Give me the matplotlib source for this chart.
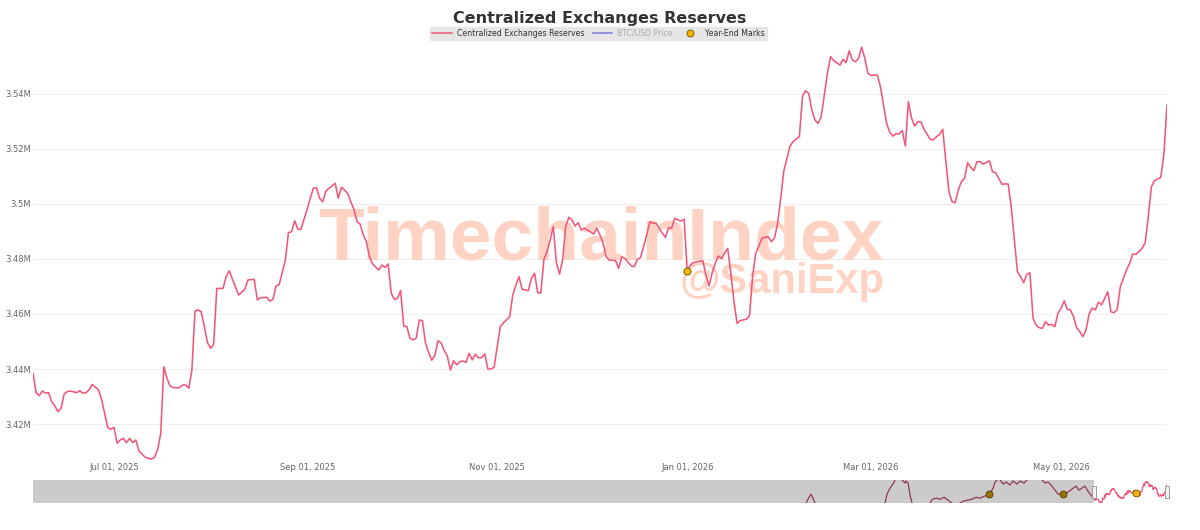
import numpy as np
import pandas as pd
import matplotlib
matplotlib.use("Agg")
import matplotlib.pyplot as plt
from matplotlib.lines import Line2D
from matplotlib.path import Path
import matplotlib.transforms as mtransforms

W, H, DPI = 1200, 530, 100

TITLE = "Centralized Exchanges Reserves"
LEGEND_LABELS = ["Centralized Exchanges Reserves", "BTC/USD Price", "Year-End Marks"]
WATERMARK = "TimechainIndex"
WATERMARK_SUB = "@SaniExp"

# ---- main series: days since START_DATE, reserves in millions of BTC ----
START_DATE = "2025-06-05"
obs_day = [
    0, 1, 2, 3, 4, 5, 6, 7, 8, 9, 10, 11, 12, 14, 15, 16, 17, 18, 19, 20,
    21, 22, 23, 24, 25, 26, 27, 28, 29, 30, 31, 32, 33, 34, 35, 36, 38, 39, 40, 41,
    42, 43, 44, 45, 47, 48, 49, 50, 51, 52, 53, 54, 55, 56, 57, 58, 59, 61, 62, 63,
    64, 66, 68, 69, 71, 72, 73, 75, 76, 77, 78, 79, 81, 82, 83, 84, 85, 86, 87, 88,
    89, 90, 91, 92, 93, 94, 95, 97, 98, 99, 101, 102, 103, 104, 105, 106, 107, 108, 109, 111,
    112, 113, 114, 115, 116, 117, 118, 119, 120, 121, 122, 123, 124, 125, 126, 127, 128, 129, 130, 131,
    132, 133, 134, 135, 136, 137, 138, 139, 140, 141, 142, 143, 144, 145, 146, 147, 148, 149, 150, 151,
    153, 154, 155, 156, 157, 159, 160, 161, 162, 163, 164, 165, 166, 167, 168, 169, 170, 171, 172, 173,
    174, 175, 176, 177, 178, 180, 181, 182, 183, 184, 185, 187, 188, 189, 190, 192, 193, 194, 195, 197,
    198, 199, 200, 202, 203, 204, 205, 206, 207, 208, 209, 210, 211, 212, 213, 215, 216, 217, 218, 219,
    220, 221, 222, 223, 224, 225, 226, 227, 229, 230, 231, 232, 234, 235, 236, 237, 238, 239, 240, 241,
    243, 244, 246, 247, 248, 249, 250, 251, 252, 253, 254, 255, 256, 257, 258, 259, 260, 261, 262, 263,
    264, 265, 266, 267, 268, 269, 271, 272, 273, 274, 275, 276, 277, 278, 279, 280, 281, 282, 283, 284,
    285, 286, 288, 289, 290, 291, 292, 293, 294, 295, 296, 297, 298, 299, 300, 301, 302, 303, 304, 305,
    307, 308, 309, 310, 311, 312, 313, 314, 315, 316, 317, 318, 319, 320, 321, 322, 323, 324, 325, 326,
    327, 328, 329, 330, 331, 332, 333, 334, 335, 336, 337, 338, 339, 340, 341, 342, 343, 344, 345, 346,
    347, 348, 349, 350, 351, 352, 353, 354, 355, 356, 357, 358, 359, 360, 362, 363, 364,
]
reserves_m = [
    3.4384, 3.4314, 3.4303, 3.4320, 3.4312, 3.4314, 3.4281, 3.4266, 3.4245, 3.4257, 3.4309, 3.4318, 3.4320, 3.4314, 3.4321, 3.4312, 3.4314, 3.4324, 3.4344, 3.4334,
    3.4324, 3.4290, 3.4239, 3.4187, 3.4181, 3.4188, 3.4130, 3.4142, 3.4148, 3.4132, 3.4148, 3.4132, 3.4142, 3.4102, 3.4091, 3.4079, 3.4072, 3.4079, 3.4106, 3.4166,
    3.4408, 3.4366, 3.4338, 3.4332, 3.4332, 3.4342, 3.4342, 3.4330, 3.4396, 3.4611, 3.4615, 3.4608, 3.4554, 3.4496, 3.4475, 3.4490, 3.4693, 3.4693, 3.4736, 3.4757,
    3.4727, 3.4669, 3.4690, 3.4724, 3.4726, 3.4651, 3.4659, 3.4661, 3.4647, 3.4653, 3.4702, 3.4706, 3.4796, 3.4896, 3.4899, 3.4939, 3.4908, 3.4908, 3.4944, 3.4981,
    3.5021, 3.5057, 3.5059, 3.5021, 3.5008, 3.5047, 3.5057, 3.5075, 3.5021, 3.5061, 3.5039, 3.5008, 3.4981, 3.4936, 3.4927, 3.4887, 3.4863, 3.4808, 3.4782, 3.4760,
    3.4778, 3.4769, 3.4782, 3.4675, 3.4653, 3.4657, 3.4685, 3.4556, 3.4554, 3.4512, 3.4506, 3.4512, 3.4578, 3.4576, 3.4493, 3.4460, 3.4432, 3.4450, 3.4503, 3.4495,
    3.4467, 3.4447, 3.4396, 3.4430, 3.4415, 3.4427, 3.4429, 3.4424, 3.4457, 3.4433, 3.4454, 3.4441, 3.4441, 3.4455, 3.4400, 3.4400, 3.4406, 3.4481, 3.4554, 3.4568,
    3.4590, 3.4669, 3.4705, 3.4736, 3.4690, 3.4685, 3.4730, 3.4748, 3.4677, 3.4677, 3.4799, 3.4827, 3.4869, 3.4918, 3.4787, 3.4745, 3.4796, 3.4918, 3.4952, 3.4942,
    3.4920, 3.4932, 3.4905, 3.4912, 3.4905, 3.4891, 3.4912, 3.4887, 3.4857, 3.4808, 3.4796, 3.4794, 3.4766, 3.4808, 3.4802, 3.4775, 3.4772, 3.4799, 3.4805, 3.4887,
    3.4936, 3.4930, 3.4930, 3.4894, 3.4879, 3.4914, 3.4912, 3.4948, 3.4942, 3.4938, 3.4945, 3.4757, 3.4778, 3.4787, 3.4790, 3.4794, 3.4742, 3.4702, 3.4750, 3.4784,
    3.4811, 3.4802, 3.4821, 3.4839, 3.4748, 3.4645, 3.4566, 3.4576, 3.4581, 3.4595, 3.4740, 3.4821, 3.4875, 3.4879, 3.4881, 3.4863, 3.4876, 3.4928, 3.5020, 3.5120,
    3.5211, 3.5227, 3.5245, 3.5393, 3.5412, 3.5402, 3.5342, 3.5305, 3.5293, 3.5317, 3.5396, 3.5475, 3.5536, 3.5521, 3.5514, 3.5505, 3.5526, 3.5514, 3.5557, 3.5524,
    3.5517, 3.5530, 3.5570, 3.5530, 3.5475, 3.5468, 3.5469, 3.5427, 3.5360, 3.5293, 3.5261, 3.5247, 3.5255, 3.5255, 3.5267, 3.5211, 3.5372, 3.5312, 3.5284, 3.5299,
    3.5299, 3.5272, 3.5235, 3.5233, 3.5245, 3.5253, 3.5272, 3.5160, 3.5045, 3.5008, 3.5005, 3.5051, 3.5081, 3.5093, 3.5150, 3.5133, 3.5121, 3.5154, 3.5154, 3.5145,
    3.5157, 3.5117, 3.5114, 3.5093, 3.5072, 3.5073, 3.5073, 3.4990, 3.4869, 3.4754, 3.4736, 3.4714, 3.4744, 3.4750, 3.4584, 3.4560, 3.4550, 3.4548, 3.4572, 3.4560,
    3.4562, 3.4554, 3.4603, 3.4621, 3.4648, 3.4617, 3.4615, 3.4590, 3.4550, 3.4536, 3.4518, 3.4542, 3.4600, 3.4621, 3.4615, 3.4643, 3.4633, 3.4657, 3.4681, 3.4608,
    3.4605, 3.4615, 3.4699, 3.4730, 3.4760, 3.4784, 3.4818, 3.4817, 3.4827, 3.4839, 3.4859, 3.4954, 3.5063, 3.5085, 3.5097, 3.5180, 3.5360,
]

# ---- year-end marks ----
year_end_dates = ["2024-01-01", "2025-01-01", "2026-01-01"]
year_end_values = [3.4664, 3.4685, 3.4757]

# ---- navigator history (visible parts of the thumbnail; None = out of view) ----
nav_hist_dates = [
    "2021-06-30", "2021-07-15", "2021-07-25", "2021-08-04", "2021-08-14", "2022-01-01",
    "2022-07-29", "2022-08-08", "2022-08-23", "2022-09-07", "2022-09-17", "2022-10-01",
    "2022-10-22", "2022-11-06", "2022-11-11", "2022-11-21", "2022-12-01", "2022-12-11", "2023-01-20",
    "2023-03-11", "2023-03-21", "2023-04-10", "2023-04-30", "2023-05-20", "2023-06-09", "2023-06-29", "2023-07-20",
    "2023-08-07", "2023-08-22", "2023-09-11", "2023-10-06", "2023-10-26", "2023-11-15", "2023-12-05", "2023-12-25",
    "2024-01-01", "2024-01-19", "2024-01-29", "2024-02-08", "2024-02-15",
    "2024-02-23", "2024-03-09", "2024-03-24", "2024-04-12", "2024-04-27", "2024-05-17", "2024-06-01", "2024-06-21",
    "2024-07-06", "2024-08-10",
    "2024-09-19", "2024-10-04", "2024-10-19", "2024-11-03", "2024-11-23", "2024-12-08", "2025-01-01", "2025-01-26",
    "2025-02-15", "2025-03-07", "2025-03-22", "2025-04-06", "2025-04-21", "2025-05-06", "2025-05-21",
]
nav_hist_values = [
    3.4040, 3.4470, 3.4685, 3.4399, 3.4040, None,
    3.4040, 3.4685, 3.5116, 3.5402, 3.5689, None,
    3.5689, 3.5474, 3.5617, 3.5474, 3.4614, 3.4040, None,
    3.4040, 3.4327, 3.4399, 3.4327, 3.4470, 3.4255, 3.4040, None,
    3.4040, 3.4183, 3.4255, 3.4327, 3.4470, 3.4399, 3.4542, 3.4614,
    3.4664, 3.5116, 3.5546, 3.5689, None,
    3.5689, 3.5402, 3.5546, 3.5331, 3.5617, 3.5402, 3.5617, 3.5474,
    3.5689, None,
    3.5689, 3.5474, 3.5546, 3.5331, 3.4972, 3.4685, 3.4685, 3.4829,
    3.5044, 3.5259, 3.4972, 3.5116, 3.5259, 3.4900, 3.4614,
]

Y_TICKS = [3.42, 3.44, 3.46, 3.48, 3.50, 3.52, 3.54]
X_TICKS = ["2025-07-01", "2025-09-01", "2025-11-01", "2026-01-01", "2026-03-01", "2026-05-01"]
Y_RANGE = (3.40691, 3.55818)
NAV_START = "2010-12-11"
NAV_Y_RANGE = (3.4040, 3.5689)

# ---- colours ----
C_LINE = "#f0587a"
C_LINE_MASKED = "#8e3a4f"
C_BTC = "#7b7bd8"
C_MARK = "#f7b500"
C_MARK_EDGE = "#6b5200"
C_MARK_MASKED = "#9a7400"
C_WM = "#ffd3c4"

# ---------------------------------------------------------------------------
dates = pd.Timestamp(START_DATE) + pd.to_timedelta(obs_day, unit="D")
values = np.array(reserves_m, dtype=float)
ye_dates = pd.to_datetime(year_end_dates)
ye_vals = np.array(year_end_values, dtype=float)
end_date = dates[-1]
win_start = dates[0]

fig = plt.figure(figsize=(W / DPI, H / DPI), dpi=DPI)
fig.patch.set_facecolor("white")

def fx(px):
    return px / W

def fy(py):
    return 1 - py / H

# main axes
ax = fig.add_axes([fx(33), fy(460), fx(1134), 416 / H])
ax.set_facecolor("white")
for s in ax.spines.values():
    s.set_visible(False)
ax.set_xlim(win_start, end_date)
ax.set_ylim(*Y_RANGE)
ax.set_yticks(Y_TICKS)
ax.set_yticklabels([f"{v:g}M" for v in Y_TICKS])
xt = pd.to_datetime(X_TICKS)
ax.set_xticks(xt)
ax.set_xticklabels([d.strftime("%b %d, %Y") for d in xt])
ax.tick_params(axis="y", length=0, pad=1.5, labelsize=6, labelcolor="#666666")
ax.tick_params(axis="x", length=0, pad=2.5, labelsize=6, labelcolor="#666666")
ax.yaxis.grid(True, color="#efefef", lw=0.8)
ax.set_axisbelow(True)

ax.text(fx(601), fy(259.5), WATERMARK, transform=fig.transFigure, ha="center",
        va="baseline", fontsize=54, fontweight="bold", family="Liberation Sans",
        color=C_WM, zorder=1)
ax.text(fx(885), fy(293), WATERMARK_SUB, transform=fig.transFigure, ha="right",
        va="baseline", fontsize=30, fontweight="bold", family="Liberation Sans",
        color=C_WM, zorder=1)

ax.plot(dates, values, color=C_LINE, lw=1.15, zorder=3)
ax.plot(ye_dates, ye_vals, "o", ms=5.2, mfc=C_MARK, mec=C_MARK_EDGE, mew=0.6, zorder=4)

# title
fig.text(0.5, fy(23.3), TITLE, ha="center", va="baseline", fontsize=11.5,
         fontweight="bold", color="#333333")

# legend
handles = [
    Line2D([], [], color=C_LINE, lw=1.1),
    Line2D([], [], color=C_BTC, lw=1.1),
    Line2D([], [], marker="o", ls="none", ms=5, mfc=C_MARK, mec=C_MARK_EDGE, mew=0.6),
]
leg = fig.legend(handles, LEGEND_LABELS, ncol=3, loc="upper center",
                 bbox_to_anchor=(fx(598.5), fy(26.7)), frameon=True, fancybox=False,
                 facecolor="#e6e6e6", edgecolor="#e6e6e6", framealpha=1,
                 fontsize=5.6, handlelength=2.5, handletextpad=0.6,
                 columnspacing=1.1, borderpad=0.28, borderaxespad=0)
for t, c in zip(leg.get_texts(), ["#333333", "#aaaaaa", "#333333"]):
    t.set_color(c)

# navigator
nav = fig.add_axes([fx(33), fy(503.3), fx(1134), 23.3 / H])
nav.set_axis_off()
nav.set_xlim(pd.Timestamp(NAV_START), end_date)
nav.set_ylim(*NAV_Y_RANGE)
nav.axvspan(pd.Timestamp(NAV_START), win_start, color="#cbcbcb", zorder=0, lw=0)
h_dates = pd.to_datetime(nav_hist_dates)
h_vals = np.array([np.nan if v is None else v for v in nav_hist_values], dtype=float)
nav.plot(list(h_dates) + [dates[0]], list(h_vals) + [values[0]],
         color=C_LINE_MASKED, lw=0.9, zorder=2)
nav.plot(dates, values, color=C_LINE, lw=0.9, zorder=2)
masked = ye_dates < win_start
nav.plot(ye_dates[masked], ye_vals[masked], "o", ms=5, mfc=C_MARK_MASKED,
         mec="#4d3a00", mew=0.6, zorder=4, clip_on=False)
nav.plot(ye_dates[~masked], ye_vals[~masked], "o", ms=5, mfc=C_MARK,
         mec=C_MARK_EDGE, mew=0.6, zorder=4, clip_on=False)
handle_path = Path([(-1, -3), (1, -3), (1, 3), (-1, 3), (-1, -3)],
                   [Path.MOVETO, Path.LINETO, Path.LINETO, Path.LINETO, Path.CLOSEPOLY])
blend = mtransforms.blended_transform_factory(nav.transData, nav.transAxes)
nav.plot([win_start, end_date], [0.5, 0.5], ls="none", marker=handle_path, ms=8.5,
         mfc="#f2f2f2", mec="#999999", mew=0.7, transform=blend, clip_on=False, zorder=5)

fig.savefig("out.png", dpi=DPI, facecolor="white")
